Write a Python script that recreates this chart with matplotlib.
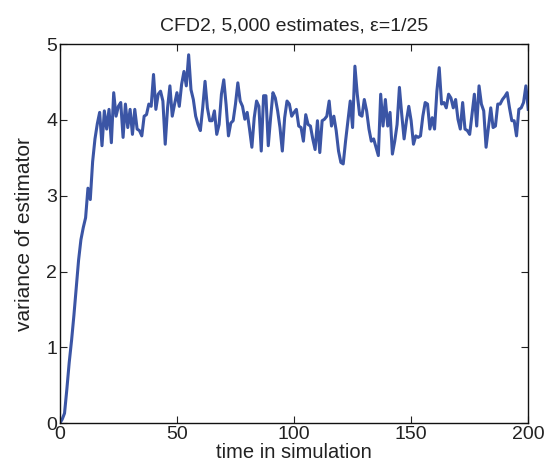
import numpy as np
import matplotlib
matplotlib.use("Agg")
import matplotlib.pyplot as plt

plt.rcParams['font.family'] = ['Liberation Sans', 'DejaVu Sans']

# time steps 0..200
t = np.arange(0, 201)

# variance of estimator
variance = [
    0.00, 0.05, 0.13, 0.45, 0.80, 1.09, 1.42, 1.78, 2.15, 2.42,
    2.58, 2.71, 3.10, 2.95, 3.45, 3.75, 3.95, 4.10, 3.66, 4.12,
    3.88, 4.14, 3.70, 4.36, 4.05, 4.18, 4.23, 3.77, 4.21, 3.90,
    4.14, 3.81, 4.14, 3.88, 3.86, 3.79, 4.05, 4.07, 4.21, 4.18,
    4.60, 4.14, 4.34, 4.38, 4.25, 3.68, 4.16, 4.45, 4.05, 4.21,
    4.36, 4.18, 4.47, 4.64, 4.45, 4.86, 4.40, 4.27, 4.05, 3.94,
    3.86, 4.16, 4.51, 4.16, 3.99, 3.99, 4.12, 3.81, 3.94, 4.34,
    4.53, 4.20, 3.79, 3.96, 3.99, 4.21, 4.49, 4.25, 4.18, 4.01,
    4.10, 3.88, 3.64, 4.03, 4.25, 4.18, 3.59, 4.32, 4.32, 3.66,
    4.03, 4.36, 4.29, 4.12, 3.90, 3.59, 4.03, 4.25, 4.21, 4.05,
    4.10, 4.14, 3.92, 3.90, 3.72, 4.07, 3.94, 3.92, 3.75, 3.61,
    3.99, 3.57, 3.99, 4.01, 4.05, 4.25, 3.92, 4.05, 3.86, 3.59,
    3.44, 3.42, 3.72, 3.99, 4.25, 3.90, 4.71, 4.34, 4.07, 4.05,
    4.27, 4.12, 3.88, 3.72, 3.75, 3.64, 3.53, 4.34, 3.92, 4.27,
    3.92, 4.10, 3.55, 3.72, 3.94, 4.43, 4.07, 3.75, 3.99, 4.18,
    3.99, 3.68, 3.79, 3.77, 3.79, 4.05, 4.23, 4.21, 3.88, 4.03,
    3.88, 4.38, 4.69, 4.21, 4.23, 4.16, 4.34, 4.29, 4.16, 4.27,
    4.01, 3.88, 4.23, 3.88, 3.86, 3.81, 4.07, 4.34, 3.92, 4.45,
    4.21, 4.12, 3.64, 3.90, 4.16, 3.90, 3.92, 4.21, 4.21, 4.27,
    4.31, 4.36, 4.16, 3.99, 3.99, 3.79, 4.14, 4.16, 4.23, 4.45,
    4.14,
]

xticks = [0, 50, 100, 150, 200]
yticks = [0, 1, 2, 3, 4, 5]

fig = plt.figure(figsize=(5.44, 4.65), dpi=100)
ax = fig.add_axes([0.110, 0.090, 0.861, 0.815])

ax.plot(t, variance, color='#3b55a5', lw=2.2)

ax.set_xlim(0, 200)
ax.set_ylim(0, 5)
ax.set_xticks(xticks)
ax.set_yticks(yticks)
ax.tick_params(direction='in', top=True, right=True, length=5, width=0.8,
               labelsize=14, colors='#222222', pad=2)
for s in ax.spines.values():
    s.set_linewidth(1.0)
    s.set_color('#111111')

ax.set_xlabel('time in simulation', fontsize=14.5, color='#222222', labelpad=0)
ax.set_ylabel('variance of estimator', fontsize=15, color='#222222', labelpad=9)
ax.set_title('CFD2, 5,000 estimates, ε=1/25', fontsize=14, color='#222222', pad=10)

fig.savefig('out.png', dpi=100)
